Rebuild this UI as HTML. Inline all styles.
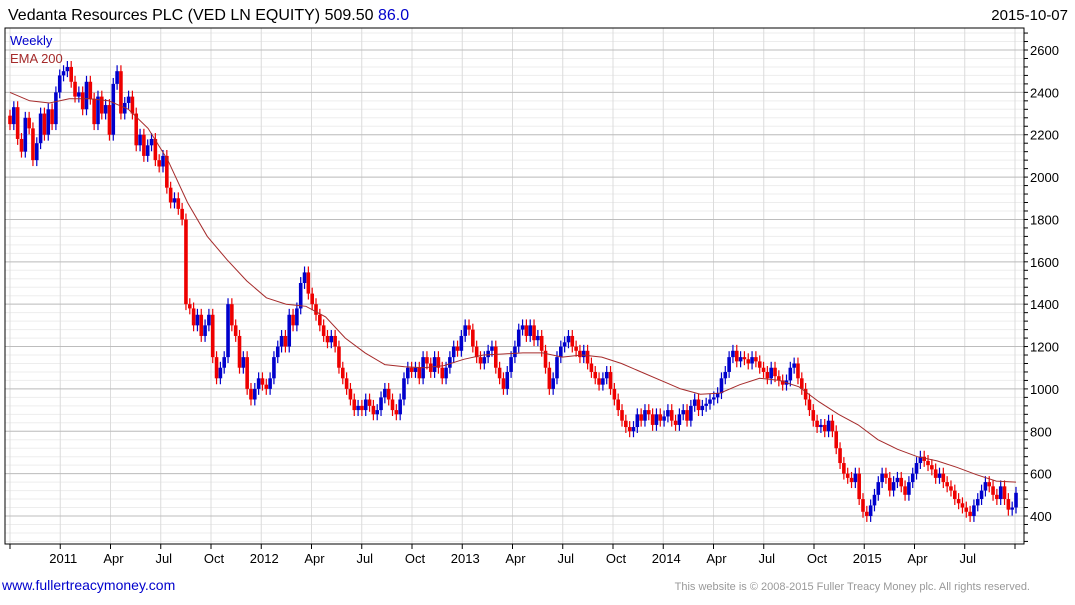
<!DOCTYPE html>
<html><head><meta charset="utf-8"><style>
body{margin:0;background:#fff;width:1075px;height:600px;overflow:hidden;font-family:"Liberation Sans",sans-serif}
svg text{font-family:"Liberation Sans",sans-serif}
</style></head><body>
<svg id="chart" width="1075" height="600" viewBox="0 0 1075 600" xmlns="http://www.w3.org/2000/svg">
<text x="8" y="20" font-size="16" fill="#000">Vedanta Resources PLC (VED LN EQUITY) 509.50 <tspan fill="#0000cc">86.0</tspan></text>
<text x="1068" y="20" font-size="15" text-anchor="end" fill="#000">2015-10-07</text>
<g id="grid"></g>
<g id="candles"></g>
<path id="ema" fill="none" stroke="#a52a2a" stroke-width="1"/>
<g id="axes"></g>
<text x="10" y="45" font-size="13" fill="#0000cc">Weekly</text>
<text x="10" y="63" font-size="13" fill="#a52a2a">EMA 200</text>
<text x="2" y="590" font-size="14" fill="#0000cc">www.fullertreacymoney.com</text>
<text x="1030" y="590" font-size="11" fill="#999" text-anchor="end">This website is © 2008-2015 Fuller Treacy Money plc. All rights reserved.</text>
</svg>
<script>
const closes=[2250,2330,2180,2120,2280,2230,2080,2160,2300,2200,2320,2250,2400,2480,
2500,2520,2450,2380,2400,2320,2450,2370,2250,2380,2300,2340,2200,2440,2500,2300,2350,
2380,2300,2150,2200,2100,2150,2180,2080,2050,2100,1950,1880,1900,1850,1800,1400,1380,1300,
1350,1250,1300,1350,1150,1050,1100,1150,1400,1300,1250,1100,1150,1000,950,1000,1050,1020,
1000,1050,1150,1200,1250,1200,1350,1300,1380,1500,1550,1450,1400,1350,1300,1250,1220,
1250,1200,1100,1050,1000,950,900,920,900,950,920,880,900,960,1000,950,900,880,950,1050,1100,
1080,1100,1050,1150,1120,1080,1150,1100,1050,1100,1150,1200,1180,
1250,1300,1280,1200,1150,1120,1150,1180,1200,1100,1050,1000,1080,1150,1200,1280,1300,1250,
1300,1230,1250,1180,1100,1000,1050,1150,1200,1220,1250,1200,1180,1150,1180,1120,1080,1050,
1020,1050,1080,1000,950,900,850,820,800,820,880,850,900,880,830,880,850,
870,900,850,830,880,900,850,920,950,900,920,930,950,960,980,1050,1080,1150,1180,1130,1150,1140,
1120,1150,1130,1100,1080,1050,1100,1060,1040,1020,1040,1100,1120,1050,1000,950,900,
850,820,830,800,850,800,720,650,600,580,560,600,480,420,
400,450,500,560,600,580,520,560,580,540,500,560,600,650,680,660,640,620,580,600,560,540,
520,480,460,440,420,400,450,480,520,560,540,500,480,540,480,430,440,509.5];
const emaValues=[2400,2360,2350,2370,2370,2360,2320,2230,2080,1880,1720,1610,1510,1430,1400,1390,1340,1240,1170,1115,1105,1100,1110,1140,1160,1165,1170,1170,1150,1160,1150,1120,1080,1040,1000,975,980,1020,1050,1040,1010,940,880,830,760,715,680,660,630,595,565,560];
const yTicks=[400,600,800,1000,1200,1400,1600,1800,2000,2200,2400,2600];
const xLabels=["2011","Apr","Jul","Oct","2012","Apr","Jul","Oct","2013","Apr","Jul","Oct","2014","Apr","Jul","Oct","2015","Apr","Jul"];
const NS="http://www.w3.org/2000/svg";
const L=5,R=1024,T=28,B=544,X0=10,X1=1016;
const y=v=>516-(v-400)*(466/2200);
const xi=i=>X0+i*(X1-X0)/(closes.length-1);
const xe=i=>X0+i*(X1-X0)/(emaValues.length-1);
function mk(tag,attrs,parent){const e=document.createElementNS(NS,tag);for(const k in attrs)e.setAttribute(k,attrs[k]);parent.appendChild(e);return e;}
const grid=document.getElementById('grid'),axes=document.getElementById('axes'),cg=document.getElementById('candles');
for(let v=280;v<=2700;v+=40){const yy=y(v);if(yy<T||yy>B)continue;
 const ln=mk('line',{x1:L,x2:R,y1:yy,y2:yy,stroke:'#ededed','stroke-width':1},grid);
 
 
 const tk=mk('line',{x1:R,x2:R+4,y1:yy,y2:yy,stroke:'#000','stroke-width':1},axes);
 
 }
const qStep=(1015-10)/20;
for(let q=0;q<=20;q++){const xx=10+q*qStep;
 const ln=mk('line',{x1:xx,x2:xx,y1:T,y2:B,stroke:'#dcdcdc','stroke-width':1},grid);
 
 
 const tk=mk('line',{x1:xx,x2:xx,y1:B,y2:B+5,stroke:'#000','stroke-width':1},axes);
 
 
 if(q>=1&&q<=xLabels.length){const t=mk('text',{x:xx+3,y:563,'font-size':13,'text-anchor':'middle',fill:'#000'},axes);t.textContent=xLabels[q-1];
  
  }}
yTicks.forEach(v=>{const yy=y(v);
 const ln=mk('line',{x1:L,x2:R,y1:yy,y2:yy,stroke:'#bdbdbd','stroke-width':1},grid);
 
 
 const t=mk('text',{x:1030,y:yy+5,'font-size':13,fill:'#000'},axes);t.textContent=v;
 
 });
const fr=mk('rect',{x:L,y:T,width:R-L,height:B-T,fill:'none',stroke:'#000','stroke-width':1},axes);


for(let i=0;i<closes.length;i++){
 const c=closes[i],o=i>0?closes[i-1]:c+40;
 const hi=Math.max(o,c)+28,lo=Math.min(o,c)-28;
 const col=c>=o?'#0000cc':'#ee0000';const xx=xi(i);
 const w=mk('line',{x1:xx,x2:xx,y1:y(hi),y2:y(lo),stroke:col,'stroke-width':1.2},cg);
 
 
 const top=y(Math.max(o,c)),h=Math.max(1.5,y(Math.min(o,c))-top);
 const r=mk('rect',{x:xx-1.8,y:top,width:3.6,height:h,fill:col},cg);
 
 }
document.getElementById('ema').setAttribute('d',emaValues.map((v,i)=>(i?'L':'M')+xe(i).toFixed(1)+' '+y(v).toFixed(1)).join(' '));
</script>
</body></html>
